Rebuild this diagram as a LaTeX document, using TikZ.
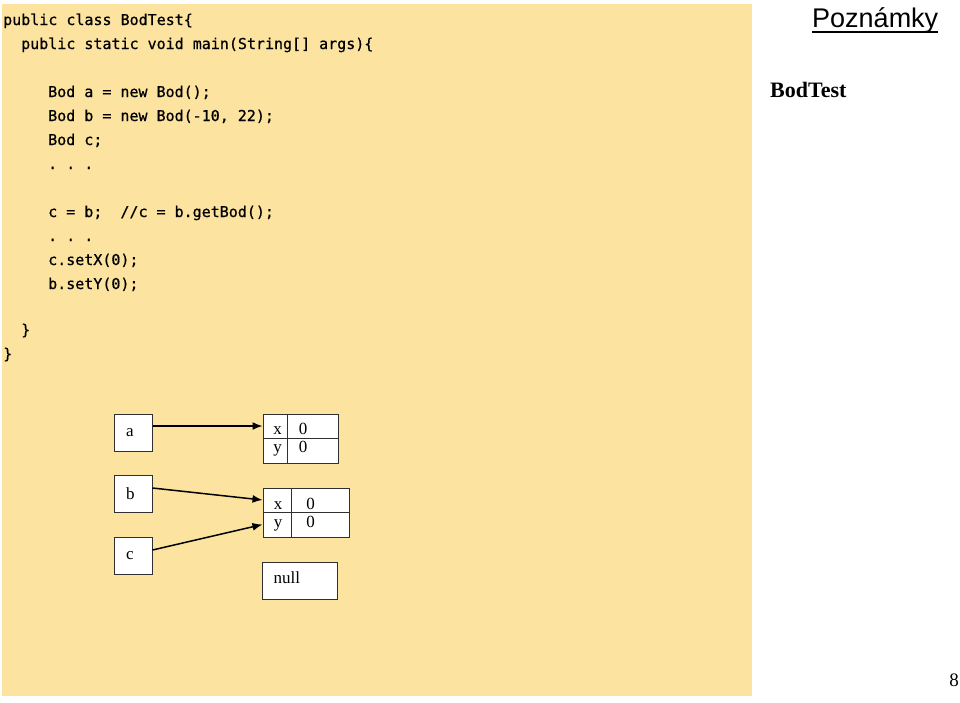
\documentclass[tikz,border=0pt]{standalone}
\usepackage{fontspec}
\setmainfont{Liberation Serif}
\newfontfamily\codefont[FakeBold=0.7]{DejaVu Sans Mono}
\newfontfamily\arialfont{Liberation Sans}
\usetikzlibrary{arrows.meta}
\definecolor{panel}{HTML}{FCE4A0}
\definecolor{boxline}{HTML}{303030}
\begin{document}
\begin{tikzpicture}[x=1pt,y=-1pt,
  code/.style={anchor=base west, inner sep=0pt, font=\codefont\fontsize{15}{18}\selectfont},
  refbox/.style={draw=boxline, line width=1pt, fill=white, text width=14pt, inner xsep=12pt, inner ysep=0pt, align=left, minimum height=37pt, font=\fontsize{17}{19}\selectfont},
  objbox/.style={draw=boxline, line width=1pt, fill=white, inner sep=0pt},
  cell/.style={anchor=base, inner sep=0pt, font=\fontsize{17}{19}\selectfont},
  divider/.style={draw=boxline, line width=1pt},
  ptr/.style={line width=1.5pt, -{Latex[length=10pt,width=8pt]}}
]
\useasboundingbox (0,0) rectangle (960,702);
\fill[panel] (2,4) rectangle (752,696);

% code
\node[code] (l0) at (3,25) {public class BodTest\{};
\node[code] (l1) at (21,49) {public static void main(String[] args)\{};
\node[code] (l3) at (48,97) {Bod a = new Bod();};
\node[code] (l4) at (48,121) {Bod b = new Bod(-10, 22);};
\node[code] (l5) at (48,145) {Bod c;};
\node[code] (l6) at (48,169) {.\ .\ .};
\node[code] (l8) at (48,217) {c = b;\ \ //c = b.getBod();};
\node[code] (l9) at (48,241) {.\ .\ .};
\node[code] (l10) at (48,265) {c.setX(0);};
\node[code] (l11) at (48,289) {b.setY(0);};
\node[code] (l13) at (21,335) {\}};
\node[code] (l14) at (3,359) {\}};

% right side
\node[anchor=base west, inner sep=0pt, font=\arialfont\fontsize{27}{30}\selectfont] (pz) at (812,27) {Poznámky};
\draw[line width=1.2pt] ([yshift=-5pt]pz.base west) -- ([yshift=-5pt]pz.base east);
\node[anchor=base west, inner sep=0pt, font=\bfseries\fontsize{22}{24}\selectfont] (bt) at (770,97) {BodTest};
\node[anchor=base, inner sep=0pt, font=\fontsize{19}{21}\selectfont] (pg) at (954,686) {8};

% reference boxes
\node[refbox] (a) at (133,432.5) {a};
\node[refbox] (b) at (133,494) {b};
\node[refbox] (c) at (133,555.5) {c};

% object 1
\node[objbox, minimum width=75pt, minimum height=49pt] (o1) at (300.5,438.5) {};
\draw[divider] (o1.west) -- (o1.east);
\draw[divider] ([xshift=25.3pt]o1.north west) -- ([xshift=25.3pt]o1.south west);
\node[cell] (o1x) at (277.5,434) {x};
\node[cell] (o1xv) at (303,434) {0};
\node[cell] (o1y) at (277.5,452) {y};
\node[cell] (o1yv) at (303,452) {0};

% object 2
\node[objbox, minimum width=86.3pt, minimum height=49pt] (o2) at (306.15,512.5) {};
\draw[divider] (o2.west) -- (o2.east);
\draw[divider] ([xshift=29.3pt]o2.north west) -- ([xshift=29.3pt]o2.south west);
\node[cell] (o2x) at (278,509) {x};
\node[cell] (o2xv) at (310.7,509) {0};
\node[cell] (o2y) at (278,527) {y};
\node[cell] (o2yv) at (310.7,527) {0};

% null box
\node[objbox, minimum width=75pt, minimum height=37pt] (nb) at (300.2,580.5) {};
\node[anchor=base west, inner sep=0pt, font=\fontsize{17}{19}\selectfont] (nl) at (273.5,583) {null};

% pointers
\draw[ptr] ([yshift=6.5pt]a.east) -- ([yshift=12.5pt]o1.west);
\draw[ptr] ([yshift=6pt]b.east) -- ([yshift=12.5pt]o2.west);
\draw[ptr] ([yshift=5.5pt]c.east) -- ([yshift=-12pt]o2.west);
\end{tikzpicture}
\end{document}
